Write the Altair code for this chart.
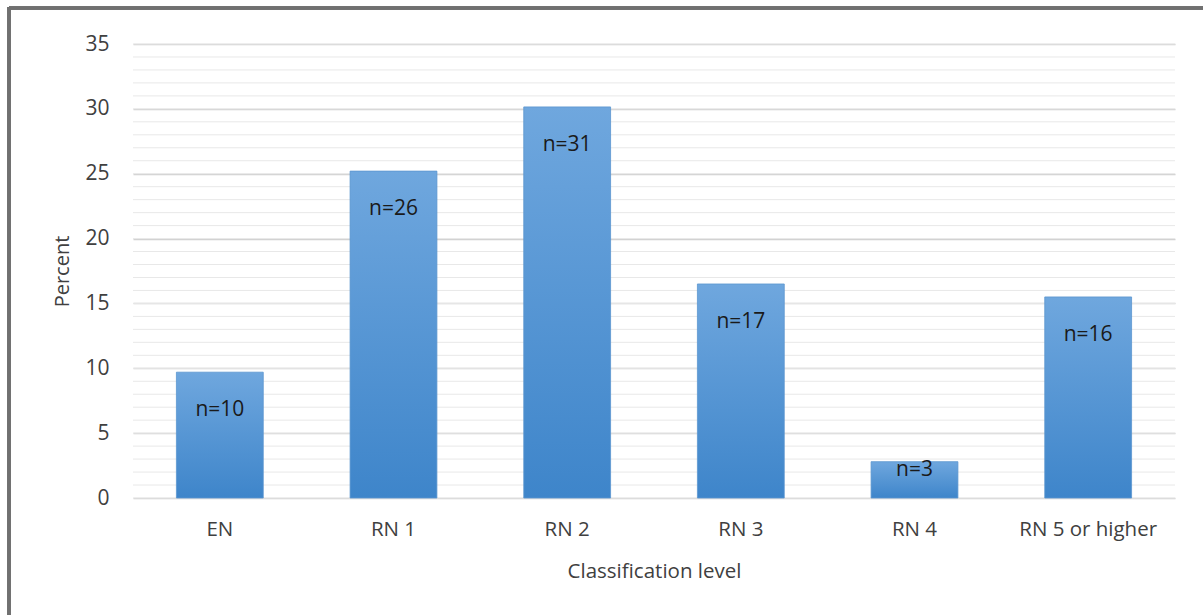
import altair as alt
import pandas as pd

categories = ["EN", "RN 1", "RN 2", "RN 3", "RN 4", "RN 5 or higher"]
percent = [9.7, 25.2, 30.15, 16.5, 2.8, 15.5]
labels = ["n=10", "n=26", "n=31", "n=17", "n=3", "n=16"]
y_ticks = [0, 5, 10, 15, 20, 25, 30, 35]

df = pd.DataFrame({"cat": categories, "value": percent, "label": labels})

FONT = "Open Sans"
TXT = "#404040"

yscale = alt.Scale(domain=[0, 35], nice=False)
yaxis = alt.Axis(title="Percent", values=y_ticks, labelFontSize=21, titleFontSize=20,
                 labelPadding=24, titlePadding=12, domain=False, ticks=False,
                 gridColor="#d0d0d0", gridWidth=1.6, labelColor=TXT, titleColor=TXT,
                 labelFont=FONT, titleFont=FONT, titleFontWeight="normal")
xenc = alt.X("cat:N", sort=categories, scale=alt.Scale(paddingInner=0.5, paddingOuter=0.25),
             axis=alt.Axis(title="Classification level", labelAngle=0, labelFontSize=20.5,
                           titleFontSize=20.5, labelPadding=21, titlePadding=22, domain=False,
                           ticks=False, labelColor=TXT, titleColor=TXT, labelFont=FONT,
                           titleFont=FONT, titleFontWeight="normal"))

minor = alt.Chart(alt.sequence(0, 36, 1, as_="v")).mark_rule(color="#e8e8e8", strokeWidth=1).encode(
    y=alt.Y("v:Q", scale=yscale, axis=yaxis)
)

bars = alt.Chart(df).mark_bar(
    color=alt.Gradient(gradient="linear", x1=0, x2=0, y1=0, y2=1,
                       stops=[alt.GradientStop(color="#6fa7de", offset=0),
                              alt.GradientStop(color="#3e85ca", offset=1)]),
    stroke="#5b95cf", strokeWidth=0.8
).encode(
    x=xenc,
    y=alt.Y("value:Q", scale=yscale, axis=yaxis),
)

text = alt.Chart(df).transform_calculate(
    ly="datum.value >= 5 ? datum.value - 2.93 : datum.value - 0.62"
).mark_text(fontSize=21, font=FONT, color="#1a1a1a", baseline="middle").encode(
    x=alt.X("cat:N", sort=categories),
    y=alt.Y("ly:Q", scale=yscale),
    text="label:N",
)

border_top = alt.Chart(df).mark_rule(color="#707070", strokeWidth=3).encode(
    x=alt.value(-124), x2=alt.value(1080), y=alt.value(-36)
)
border_left = alt.Chart(df).mark_rule(color="#707070", strokeWidth=3).encode(
    x=alt.value(-124), y=alt.value(-37), y2=alt.value(600)
)

chart = alt.layer(minor, bars, text, border_top, border_left).properties(
    width=1042, height=454,
    autosize=alt.AutoSizeParams(type="none"),
    padding={"left": 133, "top": 44, "right": 28, "bottom": 117},
    background="white",
).configure_view(stroke=None)

chart.save("out.html", embed_options={"renderer": "svg", "actions": False})
